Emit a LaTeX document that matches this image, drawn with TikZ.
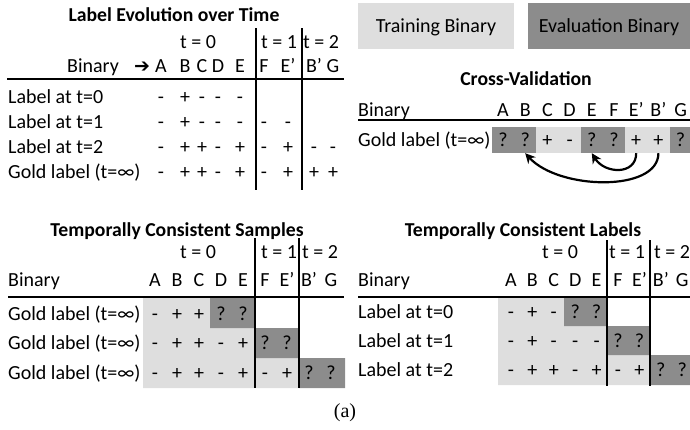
\documentclass[tikz,border=0pt]{standalone}
\usepackage{fontspec}
\setmainfont{Carlito}
\newfontfamily\arrowglyph{DejaVu Sans}
\newfontfamily\captionserif{Liberation Serif}
\usetikzlibrary{arrows.meta}
\definecolor{trainfill}{RGB}{222,222,222}
\definecolor{evalfill}{RGB}{140,140,140}
\tikzset{
  txt/.style={inner sep=0pt, text height=12.9pt, text depth=0pt},
  heading/.style={txt, font=\fontsize{19.7}{23}\selectfont\bfseries},
  rowlab/.style={txt, anchor=west},
  hrule/.style={line width=1.8pt},
  vrule/.style={line width=1.3pt},
  keybox/.style={txt, minimum height=46pt},
  cvcell/.style={txt, minimum width=22.2pt, minimum height=26pt},
  move/.style={line width=2.2pt, -{Stealth[length=10pt,width=10pt]}}
}

\begin{document}
\begin{tikzpicture}[x=1pt, y=-1pt, font=\fontsize{20}{24}\selectfont]
\useasboundingbox (0,0) rectangle (690,429);

% label evolution over time
\node[heading] (evo) at (174,15) {Label Evolution over Time};
\node[txt] (evo-t0) at (198,42) {t = 0};
\node[txt] (evo-t1) at (279,42) {t = 1};
\node[txt] (evo-t2) at (321,42) {t = 2};
\node[rowlab] (evo-bin) at (67,66) {Binary};
\node[txt, font=\arrowglyph\fontsize{19}{22}\selectfont] (evo-arr) at (142,66) {➔};
\foreach \b [count=\c] in {A,B,C,D,E,F,E’,B’,G}{
  \pgfmathsetmacro\xx{{161,185,202,218,240,264,288,314,333}[\c-1]}
  \node[txt] (evo-h\c) at (\xx,66) {\b};
}
\draw[hrule] (7,79) -- (344,79);
\draw[vrule] (256,28) -- (256,190);
\draw[vrule] (302,28) -- (302,190);
\foreach \y/\lab/\vals [count=\r] in {97/Label at t=0/{-,+,-,-,-},
    122/Label at t=1/{-,+,-,-,-,-,-},
    147/Label at t=2/{-,+,+,-,+,-,+,-,-},
    172/Gold label (t=∞)/{-,+,+,-,+,-,+,+,+}}{
  \node[rowlab] (evo-l\r) at (8,\y) {\lab};
  \foreach \v [count=\c] in \vals {
    \pgfmathsetmacro\xx{{161,185,202,218,240,264,288,314,333}[\c-1]}
    \node[txt] (evo-\r-\c) at (\xx,\y) {\v};
  }
}

% legend and cross-validation
\node[keybox, fill=trainfill, minimum width=156pt] (train) at (436,26) {Training Binary};
\node[keybox, fill=evalfill, minimum width=162pt] (eval) at (609,26) {Evaluation Binary};
\node[heading] (cv) at (526,79) {Cross-Validation};
\node[rowlab] (cv-bin) at (358,110) {Binary};
\draw[hrule] (358,120) -- (690,120);
\node[rowlab] (cv-gold) at (358,140) {Gold label (t=∞)};
\foreach \b/\n/\v/\f [count=\c] in {A/A/?/evalfill, B/B/?/evalfill, C/C/+/trainfill,
    D/D/-/trainfill, E/E/?/evalfill, F/F/?/evalfill, E’/Ep/+/trainfill,
    B’/Bp/+/trainfill, G/G/?/evalfill}{
  \node[txt] (cv-h\n) at (480.8+22.2*\c,110) {\b};
  \node[cvcell, fill=\f] (cv\n) at (480.8+22.2*\c,140) {\v};
}
\draw[move] (cvBp.south) .. controls +(0,39) and +(34,37) .. (cvB.south);
\draw[move] (cvEp.south) .. controls +(0,22) and +(13,21) .. (cvE.south);

% temporally consistent samples
\node[heading] (tcs) at (177,230) {Temporally Consistent Samples};
\node[txt] (tcs-t0) at (198,252) {t = 0};
\node[txt] (tcs-t1) at (279,252) {t = 1};
\node[txt] (tcs-t2) at (320,252) {t = 2};
\node[rowlab] (tcs-bin) at (8,280) {Binary};
\fill[trainfill] (143,297) rectangle (255,388) (255,358) rectangle (299,388);
\fill[evalfill] (210,297) rectangle (255,328) (255,328) rectangle (299,358)
  (299,358) rectangle (345,388);
\draw[hrule] (8,297) -- (344,297);
\draw[vrule] (255,238) -- (255,388);
\draw[vrule] (299,238) -- (299,388);
\foreach \b [count=\c] in {A,B,C,D,E,F,E’,B’,G}
  \node[txt] (tcs-h\c) at (133+22*\c,280) {\b};
\foreach \y/\vals [count=\r] in {314/{-,+,+,?,?}, 343/{-,+,+,-,+,?,?},
    373/{-,+,+,-,+,-,+,?,?}}{
  \node[rowlab] (tcs-l\r) at (8,\y) {Gold label (t=∞)};
  \foreach \v [count=\c] in \vals
    \node[txt] (tcs-\r-\c) at (133+22*\c,\y) {\v};
}

% temporally consistent labels
\node[heading] (tcl) at (523,230) {Temporally Consistent Labels};
\node[txt] (tcl-t0) at (560,252) {t = 0};
\node[txt] (tcl-t1) at (627,252) {t = 1};
\node[txt] (tcl-t2) at (672,252) {t = 2};
\node[rowlab] (tcl-bin) at (358,280) {Binary};
\fill[trainfill] (498,297) rectangle (607,385) (607,355) rectangle (650,385);
\fill[evalfill] (564,297) rectangle (607,326) (607,326) rectangle (650,355)
  (650,355) rectangle (690,385);
\draw[hrule] (358,297) -- (690,297);
\draw[vrule] (607,240) -- (607,386);
\draw[vrule] (650,240) -- (650,386);
\foreach \b [count=\c] in {A,B,C,D,E,F,E’,B’,G}
  \node[txt] (tcl-h\c) at (489.6+21.4*\c,280) {\b};
\foreach \y/\lab/\vals [count=\r] in {312/Label at t=0/{-,+,-,?,?},
    341/Label at t=1/{-,+,-,-,-,?,?}, 370/Label at t=2/{-,+,+,-,+,-,+,?,?}}{
  \node[rowlab] (tcl-l\r) at (358,\y) {\lab};
  \foreach \v [count=\c] in \vals
    \node[txt] (tcl-\r-\c) at (489.6+21.4*\c,\y) {\v};
}

\node[font=\captionserif\fontsize{20}{24}\selectfont] (sub) at (345,413) {(a)};
\end{tikzpicture}
\end{document}
